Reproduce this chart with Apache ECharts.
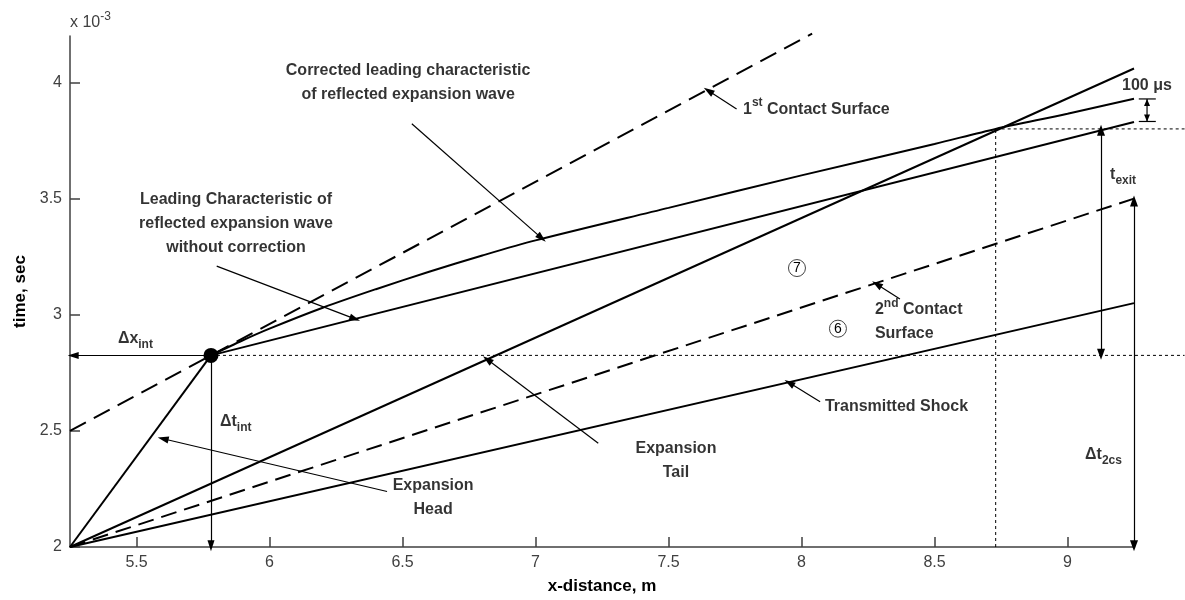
<!DOCTYPE html>
<html><head><meta charset="utf-8">
<script src="https://cdn.jsdelivr.net/npm/echarts@6/dist/echarts.min.js"></script>
<style>html,body{margin:0;padding:0;background:#fff}#c{width:1185px;height:600px}</style>
</head><body><div id="c"></div>
<script>
// ---- data ----
const xTicks = [5.5, 6, 6.5, 7, 7.5, 8, 8.5, 9];
const yTicks = [2, 2.5, 3, 3.5, 4];
const expansionHead = [[5.25, 2.0], [5.78, 2.825]];
const firstContact = [[5.25, 2.5], [8.04, 4.21]];
const expansionTail = [[5.25, 2.0], [9.25, 4.06]];
const secondContact = [[5.25, 2.0], [9.25, 3.5]];
const transmittedShock = [[5.25, 2.0], [9.25, 3.05]];
const leadingUncorrected = [[5.78, 2.825], [9.25, 3.83]];
const leadingCorrected = [[5.78, 2.825], [5.9, 2.89], [6.0, 2.94], [6.2, 3.03], [6.4, 3.11], [6.6, 3.185], [6.8, 3.255], [7.0, 3.32], [7.5, 3.46], [8.0, 3.6], [8.5, 3.735], [8.73, 3.8], [9.0, 3.865], [9.25, 3.93]];
const intersection = [[5.78, 2.825]];
const dottedLow = [[5.78, 2.825], [9.44, 2.825]];
const dottedHigh = [[8.73, 3.8], [9.44, 3.8]];
const dottedVert = [[8.73, 2.0], [8.73, 3.8]];
const regionLabels = ['7', '6'];
const annotationTexts = [
  'Corrected leading characteristic\nof reflected expansion wave',
  'Leading Characteristic of\nreflected expansion wave\nwithout correction',
  '1{sup|st} Contact Surface',
  '100 μs',
  't{sub|exit}',
  'Δx{sub|int}',
  'Δt{sub|int}',
  'Δt{sub|2cs}',
  '2{sup|nd} Contact\nSurface',
  'Transmitted Shock',
  'Expansion\nTail',
  'Expansion\nHead'
];

// ---- layout (data coordinates of annotations) ----
const annotationPos = [
  [6.521, 4.0, 'center'], [5.874, 3.393, 'center'], [7.78, 3.885, 'left'], [9.205, 3.987, 'left'],
  [9.16, 3.603, 'left'], [5.43, 2.897, 'left'], [5.814, 2.538, 'left'], [9.066, 2.397, 'left'],
  [8.276, 2.97, 'left'], [8.088, 2.603, 'left'], [7.528, 2.37, 'center'], [6.615, 2.212, 'center']
];
const regionPos = [[7.983, 3.201], [8.137, 2.94]];
// [from, to, double-headed]
const arrowSegs = [
  [[5.78, 2.825], [5.262, 2.825], false],
  [[5.78, 2.825], [5.78, 2.005], false],
  [[9.126, 2.83], [9.126, 3.794], true],
  [[9.25, 2.005], [9.25, 3.49], true],
  [[6.535, 3.822], [7.023, 3.33], false],
  [[5.8015, 3.209], [6.321, 2.982], false],
  [[7.756, 3.886], [7.65, 3.964], false],
  [[6.442, 2.239], [5.6, 2.466], false],
  [[7.236, 2.447], [6.819, 2.807], false],
  [[8.37, 3.068], [8.283, 3.131], false],
  [[8.07, 2.625], [7.954, 2.707], false]
];
const usArrow = [[9.299, 3.832], [9.299, 3.929]];
const usTickLow = [[9.268, 3.832], [9.332, 3.832]];
const usTickHigh = [[9.268, 3.929], [9.332, 3.929]];

const FONT = 'Liberation Sans, Arial, sans-serif';
const chart = echarts.init(document.getElementById('c'));

function lineSeries(name, data, opts) {
  return Object.assign({
    name, type: 'line', data, symbol: 'none', clip: false, silent: true,
    lineStyle: { color: '#000', width: 2 }, z: 3
  }, opts || {});
}

const markData = [];
arrowSegs.forEach(([a, b, both]) => {
  const size = both ? [8, 11] : [7, 11];
  markData.push([
    { coord: a, symbol: both ? 'triangle' : 'none', symbolSize: size },
    { coord: b, symbol: 'triangle', symbolSize: size }
  ]);
});

const richStyles = {
  sub: { fontSize: 12, fontWeight: 'bold', fontFamily: FONT, color: '#000', verticalAlign: 'bottom', lineHeight: 12 },
  sup: { fontSize: 12, fontWeight: 'bold', fontFamily: FONT, color: '#000', verticalAlign: 'top', lineHeight: 12 }
};

const annData = annotationTexts.map((t, i) => ({
  value: [annotationPos[i][0], annotationPos[i][1]],
  label: { formatter: t, align: annotationPos[i][2] }
}));

const regionData = regionLabels.map((t, i) => ({ value: regionPos[i], label: { formatter: t } }));

chart.setOption({
  animation: false,
  backgroundColor: '#fff',
  grid: { left: 70, right: 51, top: 36, bottom: 52 },
  xAxis: {
    type: 'value', min: 5.25, max: 9.25,
    name: 'x-distance, m', nameLocation: 'middle', nameGap: 31,
    nameTextStyle: { fontFamily: FONT, fontWeight: 'bold', fontSize: 17, color: '#000' },
    axisLine: { lineStyle: { color: '#404040', width: 1.5 } },
    axisTick: { inside: true, length: 10, customValues: xTicks, lineStyle: { color: '#404040', width: 1.5 } },
    axisLabel: { customValues: xTicks, fontFamily: FONT, fontSize: 16, color: '#404040', margin: 8 },
    splitLine: { show: false }
  },
  yAxis: {
    type: 'value', min: 2, max: 4.2,
    name: 'time, sec', nameLocation: 'middle', nameGap: 41, nameRotate: 90,
    nameTextStyle: { fontFamily: FONT, fontWeight: 'bold', fontSize: 17, color: '#000' },
    axisLine: { show: true, lineStyle: { color: '#404040', width: 1.5 } },
    axisTick: { show: true, inside: true, length: 10, customValues: yTicks, lineStyle: { color: '#404040', width: 1.5 } },
    axisLabel: { customValues: yTicks, fontFamily: FONT, fontSize: 16, color: '#404040', margin: 8 },
    splitLine: { show: false }
  },
  series: [
    lineSeries('Expansion Head', expansionHead),
    lineSeries('1st Contact Surface', firstContact, { lineStyle: { color: '#000', width: 2, type: [18, 9] } }),
    lineSeries('Expansion Tail', expansionTail),
    lineSeries('2nd Contact Surface', secondContact, { lineStyle: { color: '#000', width: 2, type: [16, 8] } }),
    lineSeries('Transmitted Shock', transmittedShock),
    lineSeries('Leading uncorrected', leadingUncorrected),
    lineSeries('Leading corrected', leadingCorrected, { smooth: 0.3 }),
    lineSeries('dottedVert', dottedVert, { lineStyle: { color: '#000', width: 1, type: [3, 3] }, z: 2 }),
    {
      name: 'usHeads', type: 'scatter', clip: false, silent: true, z: 5,
      itemStyle: { color: '#000', opacity: 1 },
      data: [
        { value: usArrow[1], symbol: 'triangle', symbolSize: [6, 7], symbolOffset: [0, 3.5] },
        { value: usArrow[0], symbol: 'triangle', symbolSize: [6, 7], symbolRotate: 180, symbolOffset: [0, -3.5] }
      ]
    },
    {
      name: 'intersection', type: 'scatter', data: intersection, symbolSize: 15, clip: false, silent: true,
      itemStyle: { color: '#000', opacity: 1 }, z: 5,
      markLine: {
        silent: true, animation: false, label: { show: false }, emphasis: { disabled: true },
        lineStyle: { type: 'solid', color: '#000', width: 1.2 }, data: markData
      }
    },
    {
      name: 'regions', type: 'scatter', data: regionData, symbolSize: 17, clip: false, silent: true, z: 6,
      itemStyle: { color: '#fff', borderColor: '#444', borderWidth: 1, opacity: 1 },
      label: { show: true, position: 'inside', fontFamily: FONT, fontSize: 14, color: '#000' }
    },
    {
      name: 'annotations', type: 'scatter', data: annData, symbolSize: 0, clip: false, silent: true, z: 7,
      label: {
        show: true, position: 'inside', verticalAlign: 'middle',
        fontFamily: FONT, fontWeight: 'bold', fontSize: 16, lineHeight: 24, color: '#000', rich: richStyles
      }
    }
  ]
});

// Segments that run past the x-axis end: placed through the chart's own scale.
const toPx = p => chart.convertToPixel({ gridIndex: 0 }, p);
function segment(seg, style) {
  const a = toPx(seg[0]), b = toPx(seg[1]);
  return { type: 'line', silent: true, z: 4, shape: { x1: a[0], y1: a[1], x2: b[0], y2: b[1] }, style };
}
const dotted = { stroke: '#000', lineWidth: 1, lineDash: [3, 3] };
const thin = { stroke: '#000', lineWidth: 1.2 };
chart.setOption({
  graphic: [
    {
      type: 'text', left: 70, top: 11, silent: true,
      style: {
        text: 'x 10{s|-3}', fontFamily: FONT, fontSize: 16, fill: '#404040',
        rich: { s: { fontSize: 12, fontFamily: FONT, fill: '#404040', verticalAlign: 'top', lineHeight: 12 } },
        lineHeight: 24
      }
    },
    segment(dottedLow, dotted),
    segment(dottedHigh, dotted),
    segment(usArrow, thin),
    segment(usTickLow, thin),
    segment(usTickHigh, thin)
  ]
});
</script></body></html>
